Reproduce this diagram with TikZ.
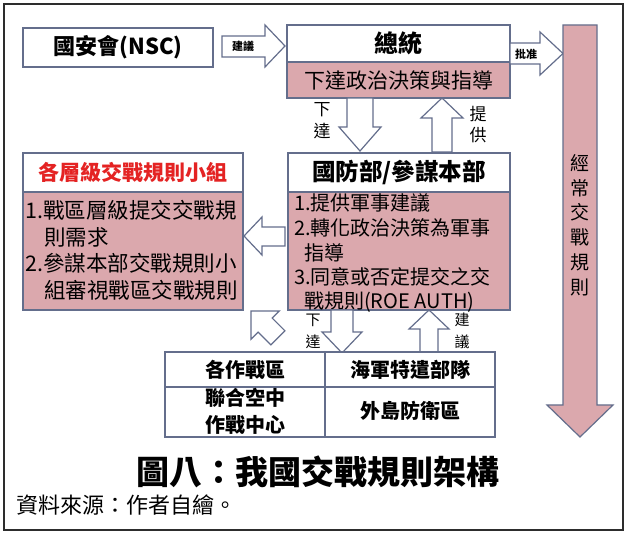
\documentclass[tikz,border=0pt]{standalone}
\usepackage{fontspec}
\setmainfont{Noto Sans CJK TC}
\definecolor{pinkf}{RGB}{219,168,173}
\definecolor{edgec}{RGB}{100,110,140}
\definecolor{framec}{RGB}{45,45,45}
\definecolor{redt}{RGB}{228,35,35}
\newcommand\fsz[2]{\fontsize{#1}{#2}\selectfont}
\tikzset{
  box/.style={draw=edgec, line width=1.3pt, inner sep=0pt},
  blk/.style={draw=edgec, line width=1.2pt, fill=white, line join=miter},
  lbl/.style={inner sep=0pt, align=center},
  line/.style={inner sep=0pt, anchor=west},
}
\begin{document}
\begin{tikzpicture}[x=1pt,y=-1pt]
\useasboundingbox (0,0) rectangle (627,534);
\fill[white] (0,0) rectangle (627,534);
\draw[framec, line width=2.5pt] (4,4) rectangle (623,530);

% ---- NSC
\node[box, fill=white, minimum width=190, minimum height=39, font=\fsz{22}{26}\bfseries] (nsc) at (118,47.5) {國安會(NSC)};

% ---- President
\node[box, fill=white, minimum width=223, minimum height=37, font=\fsz{24}{28}\bfseries] (pres) at (398.5,43.5) {總統};
\node[box, fill=pinkf, minimum width=223, minimum height=36, font=\fsz{21}{25}] (presb) at (398.5,80) {下達政治決策與指導};

% ---- arrows top row
\draw[blk] (222,36) -- (265,36) -- (265,25) -- (285,46) -- (265,67) -- (265,57) -- (222,57) -- cycle;
\node[lbl, font=\fsz{11}{13}\bfseries] (advise1) at (243,46.5) {建議};
\draw[blk] (510,43) -- (540,43) -- (540,32) -- (563,53.5) -- (540,75) -- (540,64) -- (510,64) -- cycle;
\node[lbl, font=\fsz{11}{13}\bfseries] (approve) at (526,54) {批准};

% ---- big vertical arrow
\draw[draw=edgec, line width=1.2pt, fill=pinkf, line join=miter] (563,25) -- (597,25) -- (597,405) -- (613,405) -- (580,437) -- (547,405) -- (563,405) -- cycle;
\node[lbl, font=\fsz{19}{24.8}] (standing) at (580,225) {經\\常\\交\\戰\\規\\則};

% ---- arrows between president and DoD
\draw[blk] (347,98) -- (373,98) -- (373,127) -- (381,127) -- (360,151) -- (339,127) -- (347,127) -- cycle;
\node[lbl, font=\fsz{17}{22}] (issue1) at (322,121) {下\\達};
\draw[blk] (432,152) -- (452,152) -- (452,118) -- (463,118) -- (442,98) -- (421,118) -- (432,118) -- cycle;
\node[lbl, font=\fsz{17}{21}] (provide) at (478,125) {提\\供};

% ---- DoD box
\node[box, fill=white, minimum width=222, minimum height=39, font=\fsz{23.5}{27}\bfseries] (dod) at (399,172.5) {國防部/參謀本部};
\node[box, fill=pinkf, minimum width=222, minimum height=118] (dodb) at (399,251) {};
\begin{scope}[font=\fsz{20}{24}]
\node[line] (d1) at (294,203) {1.提供軍事建議};
\node[line] (d2) at (294,228) {2.轉化政治決策為軍事};
\node[line] (d3) at (304,253) {指導};
\node[line] (d4) at (294,277) {3.同意或否定提交之交};
\node[line] (d5) at (304,302) {戰規則(ROE AUTH)};
\end{scope}

% ---- left box
\node[box, fill=white, minimum width=220, minimum height=39, font=\fsz{21}{25}\bfseries, text=redt] (grp) at (133,172.5) {各層級交戰規則小組};
\node[box, fill=pinkf, minimum width=220, minimum height=118] (grpb) at (133,251) {};
\begin{scope}[font=\fsz{21.5}{25}]
\node[line] (g1) at (25,210) {1.戰區層級提交交戰規};
\node[line] (g2) at (44,237) {則需求};
\node[line] (g3) at (25,263) {2.參謀本部交戰規則小};
\node[line] (g4) at (44,290) {組審視戰區交戰規則};
\end{scope}

% ---- left arrow
\draw[blk] (285,227) -- (262,227) -- (262,217) -- (244,236) -- (262,255) -- (262,246) -- (285,246) -- cycle;

% ---- lower arrows
\draw[blk] (251,311) -- (279.3,311) -- (272.2,318.1) -- (284.9,330.8) -- (270.8,344.9) -- (258.1,332.2) -- (251,339.3) -- cycle;
\draw[blk] (331,310) -- (353,310) -- (353,332) -- (362,332) -- (342,353) -- (322,332) -- (331,332) -- cycle;
\node[lbl, font=\fsz{15}{22}] (issue2) at (313,331) {下\\達};
\draw[blk] (420,352) -- (438,352) -- (438,329) -- (449,329) -- (429,310) -- (409,329) -- (420,329) -- cycle;
\node[lbl, font=\fsz{15}{22}] (advise2) at (462,331) {建\\議};

% ---- table
\draw[box, fill=white] (165,352) rectangle (495,437);
\draw[draw=edgec, line width=1.1pt] (325,352) -- (325,437);
\draw[draw=edgec, line width=1.1pt] (165,387) -- (495,387);
\begin{scope}[font=\fsz{20}{27}\bfseries]
\node[lbl] (t1) at (245,370) {各作戰區};
\node[lbl] (t2) at (410,370) {海軍特遣部隊};
\node[lbl] (t3) at (245,411) {聯合空中\\作戰中心};
\node[lbl] (t4) at (410,411) {外島防衛區};
\end{scope}

% ---- captions
\node[lbl, font=\fsz{33}{36}\bfseries] (cap) at (318,472) {圖八：我國交戰規則架構};
\node[line, font=\fsz{22}{26}] (src) at (16,505) {資料來源：作者自繪。};
\end{tikzpicture}
\end{document}
